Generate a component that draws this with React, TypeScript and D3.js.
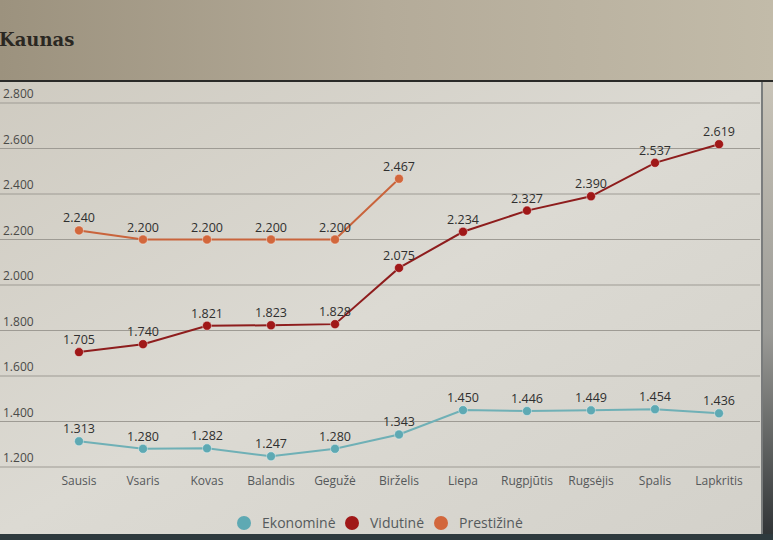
import React from "react";
import * as d3 from "d3";

const months = ["Sausis","Vsaris","Kovas","Balandis","Gegužė","Birželis","Liepa","Rugpjūtis","Rugsėjis","Spalis","Lapkritis"];
const ekonomine = [1.313,1.280,1.282,1.247,1.280,1.343,1.450,1.446,1.449,1.454,1.436];
const vidutine = [1.705,1.740,1.821,1.823,1.828,2.075,2.234,2.327,2.390,2.537,2.619];
const prestizine: (number | null)[] = [2.240,2.200,2.200,2.200,2.200,2.467,null,null,null,null,null];
const yTicks = [1.2,1.4,1.6,1.8,2.0,2.2,2.4,2.6,2.8];
const seriesNames = ["Ekonominė","Vidutinė","Prestižinė"];
const seriesColors = ["#5ea9b3","#a01818","#d2673c"];
const lineColors = ["#6fb0b6","#8e1d1d","#c9643c"];

export default function App() {
  const W = 773, H = 540;
  const x = d3.scalePoint<string>().domain(months).range([79, 719]);
  const y = d3.scaleLinear().domain([1.2, 2.8]).range([467, 103]);
  const fmt = d3.format(".3f");
  const series = [ekonomine, vidutine, prestizine];
  const line = d3.line<number | null>()
    .defined(d => d !== null)
    .x((_, i) => x(months[i]) as number)
    .y(d => y(d as number));

  return (
    <svg width={W} height={H} style={{ position: "absolute", left: 0, top: 0 }}
      fontFamily="'Open Sans', sans-serif">
      <defs>
        <linearGradient id="hdr" x1="0" x2="1" y1="0" y2="0">
          <stop offset="0" stopColor="#9c927e" />
          <stop offset="0.5" stopColor="#b4ab99" />
          <stop offset="1" stopColor="#c2bba9" />
        </linearGradient>
        <linearGradient id="body" x1="0" x2="1" y1="0" y2="1">
          <stop offset="0" stopColor="#cfcbc1" />
          <stop offset="0.5" stopColor="#dcdad3" />
          <stop offset="1" stopColor="#d3d1ca" />
        </linearGradient>
        <linearGradient id="edge" x1="0" x2="0" y1="0" y2="1">
          <stop offset="0" stopColor="#c9c4b8" />
          <stop offset="0.55" stopColor="#9a9a96" />
          <stop offset="1" stopColor="#2e3234" />
        </linearGradient>
      </defs>
      <rect x={0} y={0} width={W} height={H} fill="url(#hdr)" />
      <rect x={0} y={82} width={763} height={452} fill="url(#body)" />
      <rect x={763} y={82} width={10} height={458} fill="url(#edge)" />
      <line x1={762} x2={762} y1={82} y2={534} stroke="#5a5e60" strokeWidth={1.5} />
      <rect x={0} y={534} width={W} height={6} fill="#2e3a3e" />
      <line x1={0} x2={W} y1={81} y2={81} stroke="#2a2a28" strokeWidth={2} />
      <text x={-1} y={46} fontFamily="'DejaVu Serif', serif" fontWeight="bold" fontSize={18} fill="#2a2722">Kaunas</text>

      {yTicks.map(t => (
        <g key={t}>
          <line x1={0} x2={760} y1={y(t)} y2={y(t)} stroke="#9e9b94" strokeWidth={1} />
          <text x={3} y={y(t) - 5} fontSize={12} fill="#4a4a48">{fmt(t)}</text>
        </g>
      ))}

      {months.map(m => (
        <text key={m} x={x(m)} y={485} textAnchor="middle" fontSize={12} fill="#55585a">{m}</text>
      ))}

      {series.map((s, si) => (
        <g key={si}>
          <path d={line(s) || ""} fill="none" stroke={lineColors[si]} strokeWidth={2} />
          {s.map((v, i) => v === null ? null : (
            <g key={i}>
              <circle cx={x(months[i])} cy={y(v)} r={4.5} fill={seriesColors[si]} stroke="#ffffff" strokeOpacity={0.4} strokeWidth={1} />
              <text x={x(months[i])} y={y(v) - 8} textAnchor="middle" fontSize={12.5} fill="#2f2f2f">{fmt(v)}</text>
            </g>
          ))}
        </g>
      ))}

      {seriesNames.map((n, i) => {
        const lx = [244, 352, 441][i];
        return (
          <g key={n}>
            <circle cx={lx} cy={523} r={7} fill={seriesColors[i]} />
            <text x={lx + 18} y={528} fontSize={14} fill="#555a5c">{n}</text>
          </g>
        );
      })}
    </svg>
  );
}
